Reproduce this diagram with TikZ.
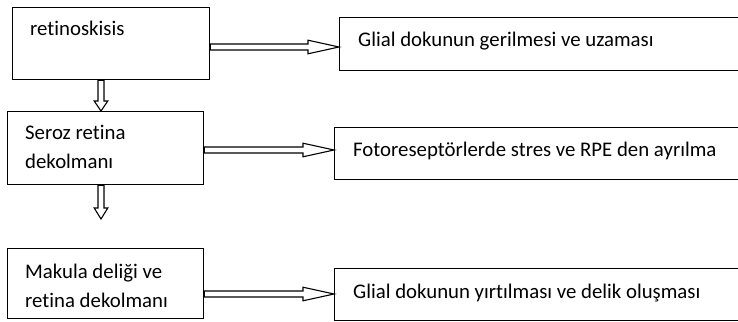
\documentclass[tikz,border=0pt]{standalone}
\usepackage{fontspec}
\setmainfont[Ligatures={NoCommon}]{Carlito}
\usetikzlibrary{calc}
\begin{document}
\begin{tikzpicture}[x=1pt,y=-1pt,
  box/.style={draw=black,line width=1.4pt,rectangle,inner sep=0pt,anchor=north west},
  lbl/.style={anchor=base west,inner sep=0pt,align=left,font=\fontsize{20.8}{28.5}\selectfont},
  hollow/.style={draw=black,line width=1.1pt,fill=white,
    to path={let \p1=($(\tikztotarget)!#1!(\tikztostart)$) in
      ($(\tikztostart)!3pt!90:(\tikztotarget)$) --
      ($(\p1)!3pt!90:(\tikztotarget)$) --
      ($(\p1)!6.8pt!90:(\tikztotarget)$) --
      (\tikztotarget) --
      ($(\p1)!6.8pt!-90:(\tikztotarget)$) --
      ($(\p1)!3pt!-90:(\tikztotarget)$) --
      ($(\tikztostart)!3pt!-90:(\tikztotarget)$) -- cycle}}]
\useasboundingbox (0,0) rectangle (738,321);
% left boxes
\node[box,minimum width=197pt,minimum height=72pt] (b1) at (12,7) {};
\node[box,minimum width=196pt,minimum height=73pt] (b2) at (7,111) {};
\node[box,minimum width=196pt,minimum height=70pt] (b3) at (7,248) {};
% right boxes
\node[box,minimum width=400pt,minimum height=53pt] (r1) at (339,17) {};
\node[box,minimum width=405pt,minimum height=52pt] (r2) at (334,127) {};
\node[box,minimum width=405pt,minimum height=52pt] (r3) at (334,268) {};
% texts
\node[lbl] (t1) at (30,36) {retinoskisis};
\node[lbl] (t2) at (25,168) {Seroz retina\\dekolmanı};
\node[lbl] (t3) at (25,307) {Makula deliği ve\\retina dekolmanı};
\node[lbl] (u1) at (358,47) {Glial dokunun gerilmesi ve uzaması};
\node[lbl] (u2) at (353,156) {Fotoreseptörlerde stres ve RPE den ayrılma};
\node[lbl] (u3) at (353,298) {Glial dokunun yırtılması ve delik oluşması};
% connector anchors
\coordinate (a1s) at (b1.east |- 0,47);
\coordinate (a1e) at (r1.west |- 0,47);
\coordinate (a2s) at (b2.east |- 0,150);
\coordinate (a2e) at (r2.west |- 0,150);
\coordinate (a3s) at (b3.east |- 0,294);
\coordinate (a3e) at (r3.west |- 0,294);
\coordinate (v1s) at (b1.south -| 101,0);
\coordinate (v1e) at (b2.north -| 101,0);
\coordinate (v2s) at (b2.south -| 101,0);
\coordinate (v2e) at (101,219);
% arrows
\path[hollow=31pt] (a1s) to (a1e);
\path[hollow=31pt] (a2s) to (a2e);
\path[hollow=31pt] (a3s) to (a3e);
\path[hollow=10pt] (v1s) to (v1e);
\path[hollow=11pt] (v2s) to (v2e);
\end{tikzpicture}
\end{document}
